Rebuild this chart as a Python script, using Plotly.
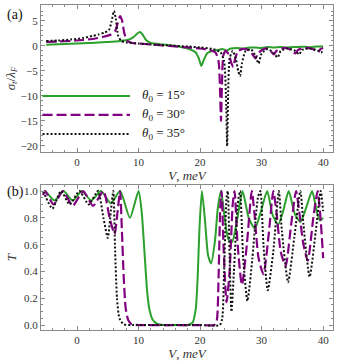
import plotly.graph_objects as go

# ---- panel (a): sigma_t / lambda_F vs V ----
va_15 = [-5, -3, -1, 1, 3, 5, 7, 8.5, 9.3, 9.8, 10.2, 10.6, 11.2, 12, 14, 16, 18, 19.3, 19.8, 20.2,
         20.6, 21.2, 22, 23, 23.6, 24.3, 25, 26, 27, 28, 29, 30, 31, 32, 33, 34, 35, 36, 37, 38, 39, 40]
sa_15 = [0.25, 0.35, 0.45, 0.55, 0.65, 0.8, 1.0, 1.3, 1.9, 2.5, 2.8, 2.4, 1.2, 0.6, 0.3, 0.0, -0.5, -1.3,
         -2.5, -4.0, -2.8, -1.4, -1.0, -0.8, -0.6, -0.9, -0.5, -0.4, -0.5, -0.3, -0.3, -0.4, -0.2, -0.3,
         -0.2, -0.3, -0.2, -0.2, -0.15, -0.25, -0.1, -0.1]

va_30 = [-5, -3, -1, 1, 3, 4.5, 5.5, 6.2, 6.6, 7.0, 7.3, 7.7, 8.2, 9, 10, 12, 15, 18, 20, 21.5, 22.5,
         23.0, 23.25, 23.4, 23.55, 23.8, 24.2, 24.7, 25.1, 25.4, 25.7, 26.2, 27, 28, 28.6, 29.0, 29.4,
         30.2, 31, 31.6, 32.0, 32.4, 33.5, 34.5, 35.1, 35.5, 35.9, 37, 38.3, 38.9, 39.2, 39.6, 40]
sa_30 = [0.8, 0.9, 1.0, 1.2, 1.5, 1.9, 2.3, 3.0, 4.5, 6.0, 5.2, 2.5, 1.0, 0.6, 0.5, 0.3, 0.0, -0.3, -0.5,
         -0.8, -1.3, -3, -9, -15, -8, -1.8, -1.0, -1.8, -3.5, -4.2, -2.5, -1.0, -0.6, -0.9, -1.8, -2.5,
         -1.5, -0.7, -0.5, -1.2, -1.7, -1.0, -0.4, -0.6, -1.2, -1.5, -0.8, -0.4, -0.6, -1.0, -1.2, -0.6, -0.4]

va_35 = [-5, -3, -1, 1, 2.5, 3.5, 4.5, 5.2, 5.6, 6.0, 6.3, 6.7, 7.2, 8, 10, 12, 15, 18, 20, 22, 23.3,
         23.9, 24.25, 24.4, 24.55, 24.8, 25.3, 25.8, 26.2, 26.5, 26.8, 27.4, 28.3, 29.0, 29.5, 30.0, 31,
         32.0, 32.6, 33.1, 34.2, 35.5, 36.1, 36.6, 37.8, 39.1, 39.7, 40]
sa_35 = [1.0, 1.1, 1.3, 1.6, 2.0, 2.3, 2.7, 3.2, 4.8, 7.0, 5.5, 2.0, 1.0, 0.7, 0.5, 0.3, 0.1, -0.1, -0.3,
         -0.6, -1.2, -3, -12, -20, -10, -2.5, -1.0, -2.5, -5.0, -6.0, -3.5, -1.0, -0.7, -2.0, -3.5, -1.5,
         -0.6, -1.5, -2.3, -1.0, -0.5, -1.0, -1.7, -0.8, -0.5, -0.9, -1.3, -0.7]

# ---- panel (b): transmission T vs V ----
vb_15 = [-5.5, -5.2, -3.7, -2.2, -0.7, 0.8, 2.3, 3.9, 5.5, 7.0, 8.6, 10.0, 10.5, 11.0, 11.4, 11.8, 12.3,
         13, 14, 16, 18, 18.8, 19.3, 19.6, 19.9, 20.3, 20.8, 21.3, 21.8, 22.4, 22.9, 23.4, 24.0, 24.6,
         25.2, 26.0, 26.9, 27.9, 28.9, 29.9, 30.9, 31.8, 32.7, 33.5, 34.4, 35.4, 36.3, 37.2, 38.2, 39.0,
         39.5, 40]
t_15 = [0.98, 1.0, 0.93, 1.0, 0.93, 1.0, 0.93, 1.0, 0.91, 1.0, 0.8, 1.0, 0.85, 0.52, 0.25, 0.11, 0.04,
        0.01, 0.0, 0.0, 0.0, 0.02, 0.12, 0.35, 0.72, 1.0, 0.78, 0.52, 0.46, 0.62, 0.88, 1.0, 0.8, 0.64,
        0.62, 0.78, 1.0, 0.8, 0.72, 0.85, 1.0, 0.82, 0.75, 0.85, 1.0, 0.83, 0.77, 0.87, 1.0, 0.84, 0.78, 0.8]

vb_30 = [-5.5, -5.2, -3.8, -2.3, -0.7, 1.0, 2.6, 4.3, 5.3, 6.1, 6.6, 7.0, 7.3, 7.6, 7.9, 8.3, 8.9, 10,
         15, 20, 22.3, 22.7, 23.0, 23.3, 23.5, 23.8, 24.3, 24.8, 25.3, 25.6, 26.1, 26.8, 27.6, 28.4,
         28.8, 29.5, 30.3, 31.2, 31.9, 32.4, 33.1, 33.9, 34.8, 35.6, 36.1, 36.8, 37.5, 38.4, 39.1, 39.6, 40]
t_30 = [0.97, 1.0, 0.9, 1.0, 0.89, 1.0, 0.89, 1.0, 0.8, 0.68, 0.85, 1.0, 0.7, 0.35, 0.13, 0.04, 0.005,
        0.0, 0.0, 0.0, 0.0, 0.03, 0.35, 0.9, 1.0, 0.6, 0.17, 0.4, 0.9, 1.0, 0.6, 0.3, 0.6, 1.0, 0.85, 0.5,
        0.38, 0.7, 1.0, 0.85, 0.55, 0.44, 0.75, 1.0, 0.85, 0.6, 0.48, 0.8, 1.0, 0.78, 0.5]

vb_35 = [-5.5, -4.0, -2.6, -1.2, 0.4, 1.9, 3.4, 4.3, 5.0, 5.5, 5.9, 6.2, 6.5, 6.9, 7.6, 9, 15, 20, 23.2,
         23.6, 23.9, 24.3, 24.5, 24.8, 25.1, 25.5, 26.1, 26.5, 27.0, 27.7, 28.5, 29.4, 29.8, 30.3, 31.0,
         31.9, 32.8, 33.3, 34.3, 35.3, 36.3, 36.8, 37.8, 38.8, 39.6, 40]
t_35 = [1.0, 0.87, 1.0, 0.9, 1.0, 0.9, 1.0, 0.8, 0.65, 0.85, 1.0, 0.55, 0.2, 0.05, 0.005, 0.0, 0.0, 0.0,
        0.0, 0.05, 0.4, 0.95, 1.0, 0.5, 0.1, 0.4, 0.9, 1.0, 0.5, 0.18, 0.5, 0.95, 1.0, 0.6, 0.26, 0.55,
        1.0, 0.7, 0.32, 0.65, 1.0, 0.75, 0.36, 0.7, 1.0, 0.85]

labels = ["15°", "30°", "35°"]
GREEN, PURPLE, BLACK = "#2ca02c", "#800080", "#111111"
styles = [dict(color=GREEN, width=2),
          dict(color=PURPLE, width=2.2, dash="10px,4px"),
          dict(color=BLACK, width=2, dash="2px,2px")]
SERIF = "Liberation Serif, Times New Roman, serif"

fig = go.Figure()
for (vx, vy), st in zip([(va_15, sa_15), (va_30, sa_30), (va_35, sa_35)], styles):
    fig.add_trace(go.Scatter(x=vx, y=vy, mode="lines", line=dict(st, shape="spline", smoothing=0.6),
                             xaxis="x", yaxis="y", showlegend=False))
for (vx, vy), st in zip([(vb_15, t_15), (vb_30, t_30), (vb_35, t_35)], styles):
    fig.add_trace(go.Scatter(x=vx, y=vy, mode="lines", line=dict(st, shape="spline", smoothing=0.6),
                             xaxis="x2", yaxis="y2", showlegend=False))

# hand-made legend inside panel (a)
for i, (lab, st) in enumerate(zip(labels, styles)):
    ly = -10 - 3.8 * i
    fig.add_shape(type="line", xref="x", yref="y", x0=-5.6, x1=8.6, y0=ly, y1=ly, line=st)
    fig.add_annotation(xref="x", yref="y", x=10.2, y=ly, xanchor="left", showarrow=False,
                       text=f"<i>θ</i><sub>0</sub> = {lab}",
                       font=dict(family=SERIF, size=13, color="#222"))

FRAME = "#8a8a8a"
TXT = "#333"
axfont = dict(family=SERIF, size=11, color=TXT)
xcommon = dict(range=[-5.85, 41.6], tickvals=[0, 10, 20, 30, 40], ticks="inside", ticklen=4,
               showline=True, linecolor=FRAME, mirror="ticks", tickcolor=FRAME, showgrid=False,
               zeroline=False, tickfont=axfont, automargin=False,
               minor=dict(dtick=2, ticks="inside", ticklen=2, tickcolor=FRAME),
               title=dict(text="<i>V</i>, <i>meV</i>", standoff=1,
                          font=dict(family=SERIF, size=13, color=TXT)))
ycommon = dict(ticks="inside", ticklen=4, showline=True, linecolor=FRAME, mirror="ticks",
               tickcolor=FRAME, showgrid=False, zeroline=False, tickfont=axfont, automargin=False)

fig.update_layout(
    width=338, height=362,
    margin=dict(l=41, r=5, t=5, b=32),
    paper_bgcolor="white", plot_bgcolor="white",
    xaxis=dict(xcommon, anchor="y"),
    xaxis2=dict(xcommon, anchor="y2"),
    yaxis=dict(ycommon, domain=[0.548, 1.0], range=[-21.2, 8.2], tickvals=[-20, -15, -10, -5, 0, 5],
               minor=dict(dtick=1, ticks="inside", ticklen=2, tickcolor=FRAME),
               title=dict(text="<i>σ<sub>t</sub></i>/<i>λ<sub>F</sub></i>", standoff=2,
                          font=dict(family=SERIF, size=13, color=TXT))),
    yaxis2=dict(ycommon, domain=[0.0, 0.446], range=[-0.037, 1.045],
                tickvals=[0, 0.2, 0.4, 0.6, 0.8, 1.0], tickformat=".1f",
                minor=dict(dtick=0.05, ticks="inside", ticklen=2, tickcolor=FRAME),
                title=dict(text="<i>T</i>", standoff=4,
                           font=dict(family=SERIF, size=13, color=TXT))),
)

for txt, yy in [("(a)", 1.0), ("(b)", 0.455)]:
    fig.add_annotation(xref="paper", yref="paper", x=-0.125, y=yy, xanchor="left", yanchor="top",
                       text=txt, showarrow=False,
                       font=dict(family=SERIF, size=14, color="#111"))

# page body has a default 8px margin; drop it so the figure sits at the window origin
fig.write_html("out.html", config={"displayModeBar": False},
               post_script="document.body.style.margin='0';")
